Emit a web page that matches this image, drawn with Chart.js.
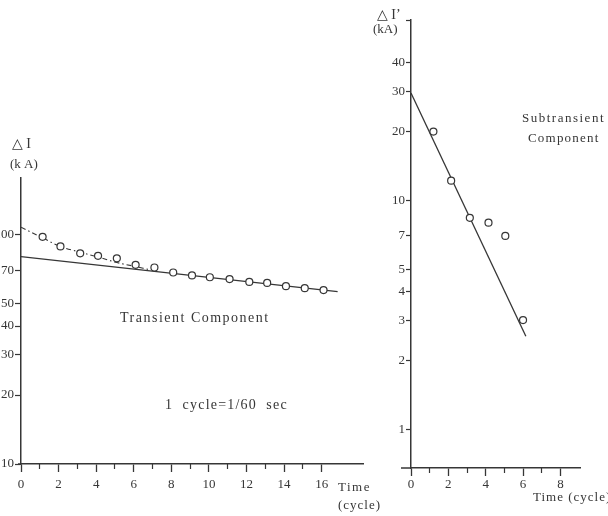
<!DOCTYPE html>
<html>
<head>
<meta charset="utf-8">
<script src="https://cdn.jsdelivr.net/npm/chart.js@4"></script>
<style>
  body { margin: 0; background: #fff; }
  #wrap { position: relative; width: 608px; height: 516px; overflow: hidden; }
  canvas { position: absolute; top: 0; }
  #transientChart { left: 0; }
  #subtransientChart { left: 360px; }
</style>
</head>
<body>
<div id="wrap">
  <canvas id="transientChart" width="400" height="516"></canvas>
  <canvas id="subtransientChart" width="248" height="516"></canvas>
</div>
<script>
// Transient component (kA) against time in cycles
const transientTime = [1.15, 2.1, 3.15, 4.1, 5.1, 6.1, 7.1, 8.1, 9.1, 10.05, 11.1, 12.15, 13.1, 14.1, 15.1, 16.1];
const transientCurrent = [98, 89, 83, 81, 79, 74, 72, 68.5, 66.5, 65.3, 64.1, 62.3, 61.7, 59.7, 58.5, 57.4];
const transientFitTime = [0, 16.85];
const transientFitCurrent = [80.4, 56.5];
const totalTime = [0, 1.15, 2.1, 3.15, 4.1, 5.1, 6.1, 6.9];
const totalCurrent = [108, 97, 89, 84, 80, 75.7, 72.7, 70.2];
const transientYTicks = [10, 20, 30, 40, 50, 70, 100];
const transientXMajor = [0, 2, 4, 6, 8, 10, 12, 14, 16];
const transientXMinor = [1, 3, 5, 7, 9, 11, 13, 15];

// Subtransient component (kA)
const subTime = [1.2, 2.15, 3.15, 4.15, 5.05, 6.0];
const subCurrent = [20, 12.2, 8.4, 8.0, 7.0, 3.0];
const subFitTime = [0, 6.15];
const subFitCurrent = [29.5, 2.55];
const subYTicks = [1, 2, 3, 4, 5, 7, 10, 20, 30, 40];
const subXMajor = [0, 2, 4, 6, 8];
const subXMinor = [1, 3, 5, 7];

const ink = '#363636';
const serif = '"Liberation Serif", "DejaVu Serif", serif';

const pts = (xs, ys) => xs.map((x, i) => ({ x: x, y: ys[i] }));

function fixedTicks(values) {
    return scale => { scale.ticks = values.map(v => ({ value: v })); };
}

function axisX(major, max, height, pad) {
    return {
        type: 'linear', min: 0, max: max, weight: 0,
        afterBuildTicks: fixedTicks(major),
        afterFit: s => { s.height = height; },
        ticks: { color: ink, font: { family: serif, size: 13 }, padding: pad, maxRotation: 0, autoSkip: false, callback: v => String(v) },
        grid: { drawOnChartArea: false, tickLength: 8, tickWidth: 1.3, tickColor: ink },
        border: { color: ink, width: 1.5 }
    };
}

// odd cycles get shorter marks, on a second axis laid over the first
function axisXMinor(minor, max, len) {
    return {
        type: 'linear', position: 'bottom', min: 0, max: max, weight: -1,
        afterBuildTicks: fixedTicks(minor),
        afterFit: s => { s.height = 0; },
        ticks: { display: false },
        grid: { drawOnChartArea: false, tickLength: len, tickWidth: 1.2, tickColor: ink },
        border: { display: false }
    };
}

function axisY(values, min, max, width, len, topMark) {
    const marks = topMark ? values.concat([max]) : values;
    return {
        type: 'logarithmic', min: min, max: max,
        afterBuildTicks: fixedTicks(marks),
        afterFit: s => { s.width = width; },
        ticks: { color: ink, font: { family: serif, size: 13 }, padding: 1, autoSkip: false,
                 callback: v => values.includes(v) ? String(v) : '' },
        grid: { drawOnChartArea: false, tickLength: len, tickWidth: 1.2, tickColor: ink },
        border: { color: ink, width: 1.5 }
    };
}

const notes = {
    id: 'notes',
    afterDraw(chart, args, opts) {
        const ctx = chart.ctx;
        const a = chart.chartArea;
        ctx.save();
        // time axis runs a little past the current axis
        ctx.strokeStyle = ink;
        ctx.lineWidth = 1.5;
        ctx.beginPath();
        ctx.moveTo(a.left - opts.overhang, a.bottom);
        ctx.lineTo(a.left, a.bottom);
        ctx.stroke();
        ctx.fillStyle = ink;
        ctx.textBaseline = 'middle';
        opts.labels.forEach(l => {
            ctx.font = l.size + 'px ' + serif;
            ctx.letterSpacing = (l.spacing || 0) + 'px';
            ctx.fillText(l.text, l.x, l.y);
        });
        ctx.restore();
    }
};

const circles = {
    showLine: false, pointRadius: 3.5, pointHoverRadius: 3.5, pointBorderWidth: 1.2,
    pointBackgroundColor: '#fff', pointBorderColor: ink, borderColor: ink
};
const solid = { showLine: true, pointRadius: 0, borderColor: ink, borderWidth: 1.3 };

// Transient Component
new Chart(document.getElementById('transientChart'), {
    type: 'scatter',
    data: {
        datasets: [
            Object.assign({ data: pts(transientTime, transientCurrent) }, circles),
            Object.assign({ data: pts(transientFitTime, transientFitCurrent) }, solid),
            Object.assign({ data: pts(totalTime, totalCurrent) }, solid,
                { borderDash: [5, 3, 1.5, 3], borderWidth: 1.1, tension: 0.4 })
        ]
    },
    options: {
        responsive: false,
        animation: false,
        devicePixelRatio: 1,
        layout: { padding: { top: 178, right: 37, bottom: 0, left: 0 } },
        scales: {
            x: axisX(transientXMajor, 18.2, 52, 5),
            x2: axisXMinor(transientXMinor, 18.2, 5),
            y: axisY(transientYTicks, 10, 177, 21, 6, false)
        },
        plugins: {
            legend: { display: false },
            tooltip: { enabled: false },
            notes: {
                overhang: 3,
                labels: [
                    { text: '\u25B3 I', x: 12, y: 144, size: 14, spacing: 0 },
                    { text: '(k A)', x: 10, y: 165, size: 13 },
                    { text: 'Transient Component', x: 120, y: 318, size: 14, spacing: 1.5 },
                    { text: '1  cycle=1/60  sec', x: 165, y: 405, size: 14, spacing: 1.2 },
                    { text: 'Time', x: 338, y: 488, size: 13, spacing: 1.5 },
                    { text: '(cycle)', x: 338, y: 506, size: 13, spacing: 1 }
                ]
            }
        }
    },
    plugins: [notes]
});

// Subtransient Component
new Chart(document.getElementById('subtransientChart'), {
    type: 'scatter',
    data: {
        datasets: [
            Object.assign({ data: pts(subTime, subCurrent) }, circles),
            Object.assign({ data: pts(subFitTime, subFitCurrent) }, solid)
        ]
    },
    options: {
        responsive: false,
        animation: false,
        devicePixelRatio: 1,
        layout: { padding: { top: 20, right: 28, bottom: 0, left: 0 } },
        scales: {
            x: axisX(subXMajor, 9.05, 48, 1),
            x2: axisXMinor(subXMinor, 9.05, 5),
            y: axisY(subYTicks, 0.677, 61.5, 51, 5, true)
        },
        plugins: {
            legend: { display: false },
            tooltip: { enabled: false },
            notes: {
                overhang: 10,
                labels: [
                    { text: '\u25B3 I\u2019', x: 17, y: 15, size: 14, spacing: 0 },
                    { text: '(kA)', x: 13, y: 30, size: 13 },
                    { text: 'Subtransient', x: 162, y: 119, size: 13, spacing: 1.5 },
                    { text: 'Component', x: 168, y: 139, size: 13, spacing: 1.2 },
                    { text: 'Time (cycle)', x: 173, y: 498, size: 13, spacing: 1 }
                ]
            }
        }
    },
    plugins: [notes]
});
</script>
</body>
</html>
